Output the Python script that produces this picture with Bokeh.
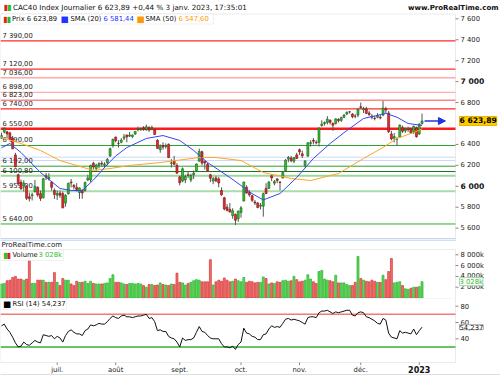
from bokeh.plotting import figure
from bokeh.models import (Range1d, Label, Arrow, NormalHead, BoxAnnotation,
                          ColumnDataSource)
from bokeh.layouts import column
from bokeh.embed import file_html
from bokeh.resources import INLINE
from bokeh.core.properties import value

FONT = "DejaVu Sans"

# ---------------- data ----------------
month_ticks = [20, 41, 64, 86, 107, 129, 150]
month_labels = ["juil.", "août", "sept.", "oct.", "nov.", "déc.", "2023"]

opens = [
    6460, 6518, 6520, 6510, 6460, 6300, 6110, 6040, 6003, 6000,
    5900, 5910, 5950, 5990, 5930, 5890, 6100, 6070, 6040, 5960,
    5915, 5935, 5930, 5840, 5930, 6040, 6010, 5990, 5940, 5960,
    5960, 6060, 6060, 6220, 6170, 6200, 6220, 6200, 6225, 6290, 6390,
    6470, 6410, 6420, 6460, 6490, 6480, 6475, 6500, 6540, 6540,
    6560, 6540, 6560, 6550, 6540, 6440, 6350, 6390, 6380, 6400,
    6220, 6240, 6200,
    6090, 6050, 6060, 6110, 6060, 6110, 6150, 6240, 6330, 6240,
    6210, 6110, 6050, 6080, 6070, 5960, 5890, 5800, 5780, 5720,
    5730, 5690,
    5750, 5860, 5990, 5940, 5910, 5850, 5840, 5810, 5810, 5980,
    5980, 6100, 6030, 6070, 6040, 6080, 6150, 6260, 6270, 6240, 6300,
    6350, 6310, 6200, 6290, 6410, 6440, 6420, 6420, 6580, 6600,
    6610, 6630, 6600, 6600, 6640, 6630, 6660, 6690, 6710, 6690,
    6670, 6680,
    6760, 6730, 6740, 6700, 6670, 6650, 6660, 6660, 6680, 6740,
    6700, 6500, 6460, 6450, 6470, 6560, 6530, 6540, 6550, 6520, 6560,
    6500, 6600]
highs = [
    6512, 6566, 6530, 6522, 6480, 6320, 6120, 6064, 6058, 6010,
    5940, 5940, 6060, 6000, 5960, 6080, 6127, 6125, 6050, 5980,
    5960, 5960, 5950, 5925, 6035, 6070, 6020, 6030, 5990, 5975,
    6045, 6110, 6205, 6235, 6215, 6230, 6240, 6230, 6270, 6370, 6455,
    6475, 6440, 6460, 6500, 6495, 6520, 6495, 6530, 6570, 6560,
    6575, 6590, 6575, 6580, 6555, 6450, 6400, 6420, 6410, 6410,
    6260, 6290, 6220,
    6100, 6180, 6110, 6140, 6120, 6150, 6220, 6360, 6340, 6240,
    6225, 6120, 6090, 6100, 6090, 5990, 5900, 5830, 5840, 5790,
    5740, 5770,
    5810, 6045, 6010, 5960, 5920, 5870, 5850, 5840, 5940, 6030,
    6050, 6110, 6060, 6080, 6050, 6140, 6260, 6290, 6290, 6280, 6320,
    6360, 6340, 6250, 6420, 6440, 6460, 6440, 6560, 6630, 6620,
    6670, 6640, 6610, 6650, 6650, 6665, 6690, 6715, 6720, 6700,
    6690, 6740,
    6800, 6760, 6760, 6720, 6690, 6670, 6700, 6680, 6815, 6760,
    6720, 6530, 6510, 6470, 6590, 6580, 6560, 6570, 6560, 6580, 6570,
    6600, 6695]
lows = [
    6455, 6505, 6457, 6440, 6355, 6181, 6005, 5963, 5950, 5869,
    5855, 5865, 5940, 5900, 5860, 5885, 6060, 6055, 5960, 5880,
    5870, 5890, 5790, 5805, 5920, 5990, 5970, 5950, 5880, 5880,
    5950, 6050, 6040, 6160, 6140, 6170, 6190, 6175, 6200, 6280, 6370,
    6420, 6370, 6410, 6440, 6420, 6470, 6460, 6490, 6525, 6530,
    6530, 6530, 6520, 6535, 6490, 6360, 6320, 6350, 6360, 6270,
    6180, 6200, 6120,
    6010, 6040, 6030, 6080, 6040, 6070, 6140, 6235, 6200, 6160,
    6140, 6040, 6020, 6040, 5990, 5910, 5770, 5760, 5750, 5690,
    5630, 5660,
    5700, 5855, 5930, 5900, 5850, 5820, 5790, 5780, 5710, 5925,
    5975, 6050, 6010, 6030, 5960, 6075, 6145, 6230, 6230, 6220, 6260,
    6300, 6270, 6180, 6280, 6380, 6400, 6400, 6380, 6570, 6580,
    6590, 6590, 6530, 6590, 6610, 6615, 6650, 6680, 6695, 6650,
    6650, 6660,
    6740, 6700, 6690, 6670, 6640, 6630, 6650, 6640, 6670, 6700,
    6510, 6440, 6420, 6390, 6465, 6510, 6510, 6520, 6500, 6500, 6465,
    6490, 6590]
closes = [
    6485, 6548, 6500, 6448, 6358, 6187, 6022, 5979, 6030, 5886,
    5882, 5920, 6000, 5916, 5883, 6073, 6086, 6086, 5990, 5922,
    5931, 5915, 5794, 5912, 6028, 6033, 5995, 5969, 5984, 5936,
    6036, 6080, 6200, 6185, 6201, 6217, 6212, 6211, 6257, 6359, 6449,
    6436, 6409, 6442, 6472, 6472, 6490, 6490, 6523, 6545, 6553,
    6546, 6569, 6537, 6562, 6496, 6362, 6378, 6375, 6381, 6274,
    6223, 6210, 6125,
    6034, 6167, 6094, 6105, 6105, 6126, 6212, 6333, 6222, 6222,
    6149, 6077, 6072, 6052, 6032, 5918, 5783, 5770, 5754, 5766,
    5676, 5762,
    5794, 6040, 5936, 5918, 5866, 5841, 5797, 5819, 5929, 5931,
    6040, 6080, 6045, 6055, 6036, 6131, 6250, 6276, 6244, 6273, 6266,
    6328, 6292, 6242, 6416, 6417, 6430, 6415, 6557, 6595, 6609,
    6642, 6611, 6583, 6644, 6628, 6657, 6680, 6707, 6712, 6665,
    6669, 6739,
    6753, 6742, 6697, 6687, 6660, 6647, 6677, 6653, 6748, 6729,
    6522, 6452, 6475, 6450, 6585, 6526, 6545, 6547, 6510, 6573, 6474,
    6595, 6623.89]
volumes_k = [
    2600, 2700, 3200, 3300, 3800, 4000, 3500, 3500, 3300, 3500,
    6900, 2700, 2700, 3300, 3300, 3300, 2900, 2900, 2900, 4700,
    2900, 2300, 3600, 3300, 3300, 2600, 2300, 3100, 2900, 2900,
    3100, 2700, 3100, 2700, 2600, 2600, 2600, 2700, 2800, 3600, 4300,
    2900, 2900, 2800, 2600, 2500, 2700, 2700, 2600, 2700, 2600,
    2300, 2000, 2500, 2500, 2300, 2400, 2800, 2500, 2400, 2300,
    2600, 2500, 4600,
    2900, 2800, 2400, 2700, 2900, 3200, 3400, 3300, 3000, 3000,
    3000, 7100, 2400, 3000, 3300, 3100, 3700, 3300, 3000, 3100,
    3500, 3200,
    3000, 3800, 2900, 3100, 3000, 2800, 2900, 2900, 3900, 3600,
    2600, 2800, 2700, 3000, 2900, 3200, 3300, 3100, 3200, 4000, 3400,
    3000, 3100, 3300, 4300, 3500, 3000, 2700, 4900, 5100, 3500,
    3300, 3200, 3000, 4200, 2800, 2800, 2800, 2500, 2300, 2300,
    2900, 7700,
    3600, 3300, 3100, 3000, 3300, 3100, 2900, 2900, 4200, 3400,
    4900, 7300, 2800, 2900, 3000, 2300, 1700, 1600, 1800, 2000, 2000,
    2100, 3028]
rsi14 = [
    56, 58, 52, 48, 42, 35, 30, 31, 36, 33,
    32, 35, 38, 36, 35, 45, 44, 43, 44, 40,
    43, 41, 36, 44, 49, 51, 48, 46, 46, 44,
    50, 52, 57, 56, 57, 59, 58, 58, 61, 65, 68,
    66, 65, 68, 69, 67, 67, 66, 67, 68, 68,
    69, 70, 65, 66, 61, 50, 51, 49, 49, 43,
    41, 40, 36,
    30, 41, 38, 39, 39, 41, 48, 55, 49, 48,
    44, 41, 40, 40, 40, 34, 30, 30, 29, 31,
    27, 33,
    36, 53, 47, 46, 43, 42, 39, 39, 45, 46,
    52, 56, 54, 55, 54, 59, 64, 65, 63, 64, 63,
    62, 60, 58, 66, 67, 67, 66, 72, 74, 74,
    75, 73, 71, 73, 72, 73, 74, 75, 75, 69,
    68, 72,
    73, 72, 67, 66, 64, 62, 59, 58, 65, 63,
    47, 42, 41, 40, 50, 47, 48, 47, 46, 52, 45,
    50, 54.237]

sma20_idx = [0, 3, 7, 14, 21, 25, 29, 33, 37, 41, 45, 52, 58, 64, 69, 74, 82, 86,
             90, 94, 100, 106, 112, 118, 124, 130, 138, 142, 146, 151]
sma20_val = [6368, 6409, 6323, 6132, 5979, 5960, 5960, 6060, 6180, 6290, 6370, 6457,
             6485, 6438, 6342, 6227, 6084, 6008, 5930, 5870, 5931, 6084, 6266, 6409,
             6533, 6648, 6696, 6660, 6600, 6581.44]
sma50_idx = [0, 7, 14, 21, 27, 33, 39, 46, 57, 71, 77, 86, 94, 104, 111, 121, 130,
             137, 142, 148, 151]
sma50_val = [6466, 6409, 6342, 6246, 6199, 6151, 6170, 6199, 6227, 6275, 6275, 6246,
             6132, 6075, 6055, 6122, 6266, 6371, 6457, 6514, 6547.60]

level_values = [7390, 7120, 7036, 6898, 6823, 6740, 6550, 6390, 6278, 6246,
                6192, 6141, 6100.80, 5953, 5640, 5500, 5478]
level_labels = ["7 390,00", "7 120,00", "7 036,00", "6 898,00", "6 823,00",
                "6 740,00", "6 550,00", "6 390,00", "", "",
                "6 192,00", "", "6 100,80", "5 953,00", "5 640,00", "", ""]
# styles of the level lines (kept apart from the values)
level_colors = ["#ff2a2a", "#ff2a2a", "#ff7c7c", "#ff9c9c", "#ff4a4a", "#ff2a2a",
                "#ff1a1a", "#2f9e2f", "#cbd9f6", "#cbd9f6", "#2f9e2f", "#1f6f1f",
                "#9ed89e", "#a8dca8", "#2fae2f", "#c2d3f6", "#c2d3f6"]
level_widths = [1.2, 1.2, 1, 1, 1, 1.2, 2.6, 1, 1, 1, 1, 1, 2, 2, 1, 1.2, 1.2]

main_ticks = [5600, 5800, 6000, 6200, 6400, 6800, 7000, 7200, 7400, 7600]
vol_ticks = [2000, 4000, 6000, 8000]
rsi_ticks = [40, 60, 80]


def fr(v, dec=2):
    s = f"{v:,.{dec}f}"
    return s.replace(",", " ").replace(".", ",")


# ---------------- geometry (screen px -> data) ----------------
W = 500
PX = 2.785                      # px per trading day
X0 = -1 / PX
X1 = X0 + W / PX


def dx(sx):
    return X0 + sx / PX


AX = dx(455)                    # position of the price axis
xr = Range1d(X0, X1)
n = len(closes)
xs = list(range(n))

# main panel: canvas 0..241
MH = 241
PXV = 0.10467
M_HI = 6000 + 185.8 / PXV
M_LO = 6000 - (MH - 185.8) / PXV


def my(sy):
    return M_HI - sy * (M_HI - M_LO) / MH


# volume panel: canvas 241..298
VH = 57
V_HI = 56.5 / 0.0054
V_LO = -0.5 / 0.0054


def vy(sy):
    return V_HI - (sy - 241) * (V_HI - V_LO) / VH


# RSI panel: canvas 298..375
RH = 77
R_HI = 40 + 40.3 / 0.815
R_LO = 40 - (RH - 40.3) / 0.815


def ry(sy):
    return R_HI - (sy - 298) * (R_HI - R_LO) / RH


def make_fig(h, yr):
    f = figure(width=W, height=h, x_range=xr, y_range=yr, output_backend="svg",
               toolbar_location=None, x_axis_location=None, y_axis_location=None,
               min_border=0)
    f.grid.visible = False
    f.outline_line_color = None
    f.border_fill_color = "white"
    return f


def txt(fig, x, y, text, color="#111111", size="6.8px", bold=False, align="left", **kw):
    fig.add_layout(Label(x=x, y=y, text=text, text_color=color, text_font=FONT,
                         text_font_size=size,
                         text_font_style="bold" if bold else "normal",
                         text_align=align, text_baseline="middle", **kw))


def panel_box(fig, top, bottom):
    fig.add_layout(BoxAnnotation(left=X0, right=AX, top=top, bottom=bottom,
                                 fill_alpha=0, line_color="#bdbdbd", line_width=1,
                                 level="underlay"))


def yaxis(fig, ticks, labels, bold_ticks=(), bold_labels=()):
    allt = list(ticks) + list(bold_ticks)
    fig.segment(x0=[AX] * len(allt), x1=[AX + 3 / PX] * len(allt), y0=allt, y1=allt,
                line_color="#888888", line_width=1)
    fig.text(x=[dx(460)] * len(ticks), y=ticks, text=labels, text_baseline="middle",
             text_font=value(FONT), text_font_size=value("6.8px"), text_color="#222222")
    if bold_ticks:
        fig.text(x=[dx(460)] * len(bold_ticks), y=bold_ticks, text=bold_labels,
                 text_baseline="middle", text_font=value(FONT),
                 text_font_size=value("7.6px"), text_font_style="bold",
                 text_color="#111111")


# ---------------- main price panel ----------------
p = make_fig(MH, Range1d(M_LO, M_HI))
panel_box(p, my(13.5), M_LO)

reg = [t for t in main_ticks if t % 1000]
bold = [t for t in main_ticks if t % 1000 == 0]
yaxis(p, reg, [fr(t, 0) for t in reg], bold, [fr(t, 0) for t in bold])

p.segment(x0=[X0] * len(level_values), x1=[AX] * len(level_values),
          y0=level_values, y1=level_values, line_color=level_colors,
          line_width=level_widths)
lv = [(v, t) for v, t in zip(level_values, level_labels) if t]
p.text(x=[dx(2)] * len(lv), y=[v for v, _ in lv], text=[t for _, t in lv],
       text_baseline="bottom", y_offset=-1, text_font=value(FONT),
       text_font_size=value("6.8px"), text_color="#1a1a1a")

up = [c >= o for o, c in zip(opens, closes)]
src = ColumnDataSource(dict(
    x=xs, h=highs, l=lows,
    top=[max(o, c) for o, c in zip(opens, closes)],
    bot=[min(o, c) for o, c in zip(opens, closes)],
    fill=["#2ec32e" if u else "#e62a2a" for u in up],
    edge=["#1c5e1c" if u else "#7a1414" for u in up],
))
p.segment(x0="x", y0="h", x1="x", y1="l", source=src, line_color="#555555", line_width=1)
p.vbar(x="x", width=0.72, top="top", bottom="bot", fill_color="fill", line_color="edge",
       line_width=0.6, source=src)

p.line(sma50_idx, sma50_val, line_color="#ffa526", line_width=1)
p.line(sma20_idx, sma20_val, line_color="#3547f0", line_width=1)

p.add_layout(Arrow(end=NormalHead(size=7, fill_color="#2233dd", line_color="#2233dd"),
                   x_start=xs[-1] + 0.9, y_start=closes[-1], x_end=xs[-1] + 8.4,
                   y_end=closes[-1], line_color="#2233dd", line_width=1.5))

txt(p, dx(459), closes[-1], fr(closes[-1]), color="#000000", size="7.6px", bold=True,
    background_fill_color="#ffcc00", border_line_color="#e8b800")

# title
txt(p, dx(3), my(6.5), "▮", color="#e02020", size="8px")
txt(p, dx(6.5), my(6.5), "▮", color="#20c020", size="8px")
txt(p, dx(12.5), my(6.5),
    "CAC40 Index Journalier " + fr(closes[-1]) + " +0,44 % 3 janv. 2023, 17:35:01",
    color="#111111", size="7.2px")
txt(p, dx(498), my(7), "www.ProRealTime.com", color="#111111", size="7px", bold=True,
    align="right")

# legend of the main panel
p.add_layout(BoxAnnotation(left=X0, right=dx(213), top=my(13.5), bottom=my(23.5),
                           fill_color="white", fill_alpha=0.9, line_color="#cfcfcf"))
ly = my(18.6)
txt(p, dx(2.5), ly, "▮", color="#e02020", size="8px")
txt(p, dx(6), ly, "▮", color="#20c020", size="8px")
txt(p, dx(11.5), ly, "Prix " + fr(closes[-1]))
txt(p, dx(60), ly, "■", color="#2233ff", size="8.5px")
txt(p, dx(70), ly, "SMA (20)")
txt(p, dx(103), ly, fr(sma20_val[-1]), color="#2233ff")
txt(p, dx(136), ly, "■", color="#ff9900", size="8.5px")
txt(p, dx(145), ly, "SMA (50)")
txt(p, dx(178), ly, fr(sma50_val[-1]), color="#ff9900")

# ---------------- volume panel ----------------
pv = make_fig(VH, Range1d(V_LO, V_HI))
panel_box(pv, vy(249), V_LO)
yaxis(pv, vol_ticks, [fr(t, 0) + "k" for t in vol_ticks])
pv.vbar(x=xs, top=volumes_k, width=0.7,
        fill_color=["#5fd85f" if u else "#ee6f6f" for u in up],
        line_color=["#22b022" if u else "#d83030" for u in up], line_width=0.7)
txt(pv, dx(1), vy(244.5), "ProRealTime.com", color="#222222", size="7px")
pv.add_layout(BoxAnnotation(left=X0, right=dx(63), top=vy(249), bottom=vy(260),
                            fill_color="white", fill_alpha=0.9, line_color="#cfcfcf"))
txt(pv, dx(2.5), vy(254.6), "▮", color="#20c020", size="8px")
txt(pv, dx(6), vy(254.6), "▮", color="#e02020", size="8px")
txt(pv, dx(12), vy(254.6), "Volume")
txt(pv, dx(38), vy(254.6), fr(volumes_k[-1], 0) + "k", color="#33bb33")
txt(pv, dx(459), volumes_k[-1], fr(volumes_k[-1], 0) + "k", color="#33bb33",
    background_fill_color="white", border_line_color="#a8d8a8")

# ---------------- RSI panel ----------------
pr = make_fig(RH, Range1d(R_LO, R_HI))
panel_box(pr, R_HI, ry(362))
yaxis(pr, rsi_ticks, [str(t) for t in rsi_ticks])
pr.segment(x0=[X0, X0], x1=[AX, AX], y0=[70, 30], y1=[70, 30],
           line_color=["#f07a7a", "#33b033"], line_width=1.5)
pr.line(xs, rsi14, line_color="#111111", line_width=1)
pr.add_layout(BoxAnnotation(left=X0, right=dx(66), top=R_HI, bottom=ry(309),
                            fill_color="white", fill_alpha=0.9, line_color="#cfcfcf"))
txt(pr, dx(2.5), ry(303.8), "■", color="#000000", size="8.5px")
txt(pr, dx(12), ry(303.8), "RSI (14) " + fr(rsi14[-1], 3))
txt(pr, dx(459), rsi14[-1], fr(rsi14[-1], 3), color="#222222",
    background_fill_color="white", border_line_color="#aaaaaa")

# time axis (months)
pr.segment(x0=month_ticks, x1=month_ticks, y0=[ry(362)] * len(month_ticks),
           y1=[ry(364.5)] * len(month_ticks), line_color="#888888")
reg_m = [(t, m) for t, m in zip(month_ticks, month_labels) if m != "2023"]
pr.text(x=[t for t, _ in reg_m], y=[ry(369.5)] * len(reg_m), text=[m for _, m in reg_m],
        text_align="center", text_baseline="middle", text_font=value(FONT),
        text_font_size=value("6.8px"), text_color="#222222")
txt(pr, month_ticks[-1], ry(369), "2023", size="8px", bold=True, align="center")
pr.segment(x0=[X0], x1=[X1], y0=[ry(374.5)], y1=[ry(374.5)], line_color="#bdbdbd")

layout = column(p, pv, pr, spacing=0)
open("out.html", "w").write(file_html(layout, INLINE))
